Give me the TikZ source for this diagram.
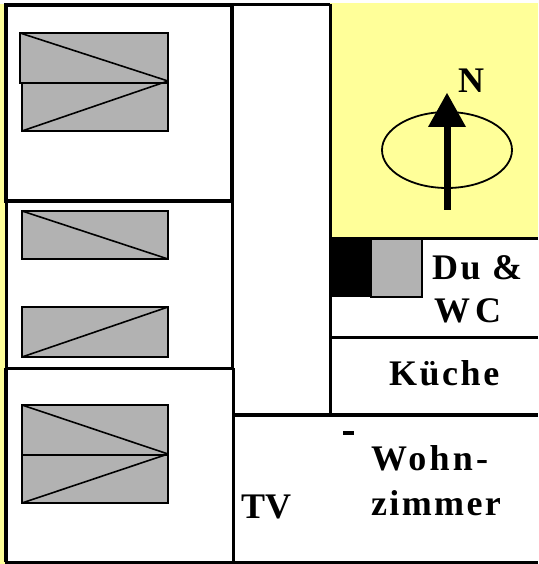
\documentclass[tikz,border=0pt]{standalone}
\usepackage{fontspec}
\setmainfont{Liberation Serif}
\definecolor{lawn}{RGB}{255,255,153}
\definecolor{bedgray}{RGB}{178,178,178}
\tikzset{
    thickwall/.style={line width=3.6pt, line join=miter},
    thinwall/.style={line width=3pt},
    bed/.style={draw, fill=bedgray, line width=1.6pt},
    roomlabel/.style={font=\bfseries\fontsize{36}{36}\selectfont, inner sep=0pt, anchor=base west},
}
\begin{document}
\begin{tikzpicture}[x=1pt,y=-1pt]
    \useasboundingbox (0,0) rectangle (538,564);
    \fill[white] (0,0) rectangle (538,564);
    \fill[lawn] (0,4) rectangle (7,564);
    \fill[lawn] (330,3) rectangle (538,238);
    \fill[white] (7,5) rectangle (232,562);
    \foreach \x/\top/\bot in {20/33/83, 22/83/131, 22/211/259, 22/307/357, 22/405/455, 22/455/503}
        \draw[bed] (\x,\top) rectangle (168,\bot);
    \draw[bed] (20,33) -- (168,81);
    \draw[bed] (22,131) -- (168,81);
    \draw[bed] (22,211) -- (168,259);
    \draw[bed] (22,357) -- (168,307);
    \draw[bed] (22,405) -- (168,454);
    \draw[bed] (22,503) -- (168,454);
    \draw[thickwall] (6,5) rectangle (232,201);
    \draw[line width=2.2pt] (6.5,201) -- (6.5,368);
    \draw[thinwall] (232,201) -- (232,368);
    \draw[thickwall] (6,368) -- (6,562);
    \draw[thickwall] (233.5,368) -- (233.5,562);
    \draw[thinwall] (5,368) -- (233,368);
    \draw[thinwall] (5,562) -- (538,562);
    \draw[thinwall] (232,5) -- (330,5);
    \draw[thinwall] (330.5,4) -- (330.5,415);
    \draw[thickwall] (233,415) -- (538,415);
    \draw[thinwall] (330,238.5) -- (538,238.5);
    \draw[thinwall] (330,337) -- (538,337);
    \fill (329,238) rectangle (371,297);
    \fill[bedgray] (371,240) rectangle (422,297);
    \draw[line width=1.6pt] (371,240) -- (371,297) -- (422,297) -- (422,240);
    \draw[line width=1.8pt] (447,150) ellipse[x radius=65, y radius=38];
    \fill (444,210) rectangle (451,126);
    \coordinate (tip) at (447,93);
    \fill (tip) -- (466,127) -- (428,127) -- cycle;
    \fill (343,431) rectangle (354,435);
    \node[roomlabel] (north) at (458,93) {N};
    \node[roomlabel] (bath) at (432,279) {\addfontfeature{LetterSpace=7}Du \&};
    \node[roomlabel] (wc) at (434,322) {W\kern5pt C};
    \node[roomlabel] (kitchen) at (389,385) {\addfontfeature{LetterSpace=7}Küche};
    \node[roomlabel] (living) at (371,470) {\addfontfeature{LetterSpace=9}Wohn-};
    \node[roomlabel] (livingb) at (371,515) {\addfontfeature{LetterSpace=6.5}zimmer};
    \node[roomlabel] (tv) at (241,518) {TV};
\end{tikzpicture}
\end{document}
